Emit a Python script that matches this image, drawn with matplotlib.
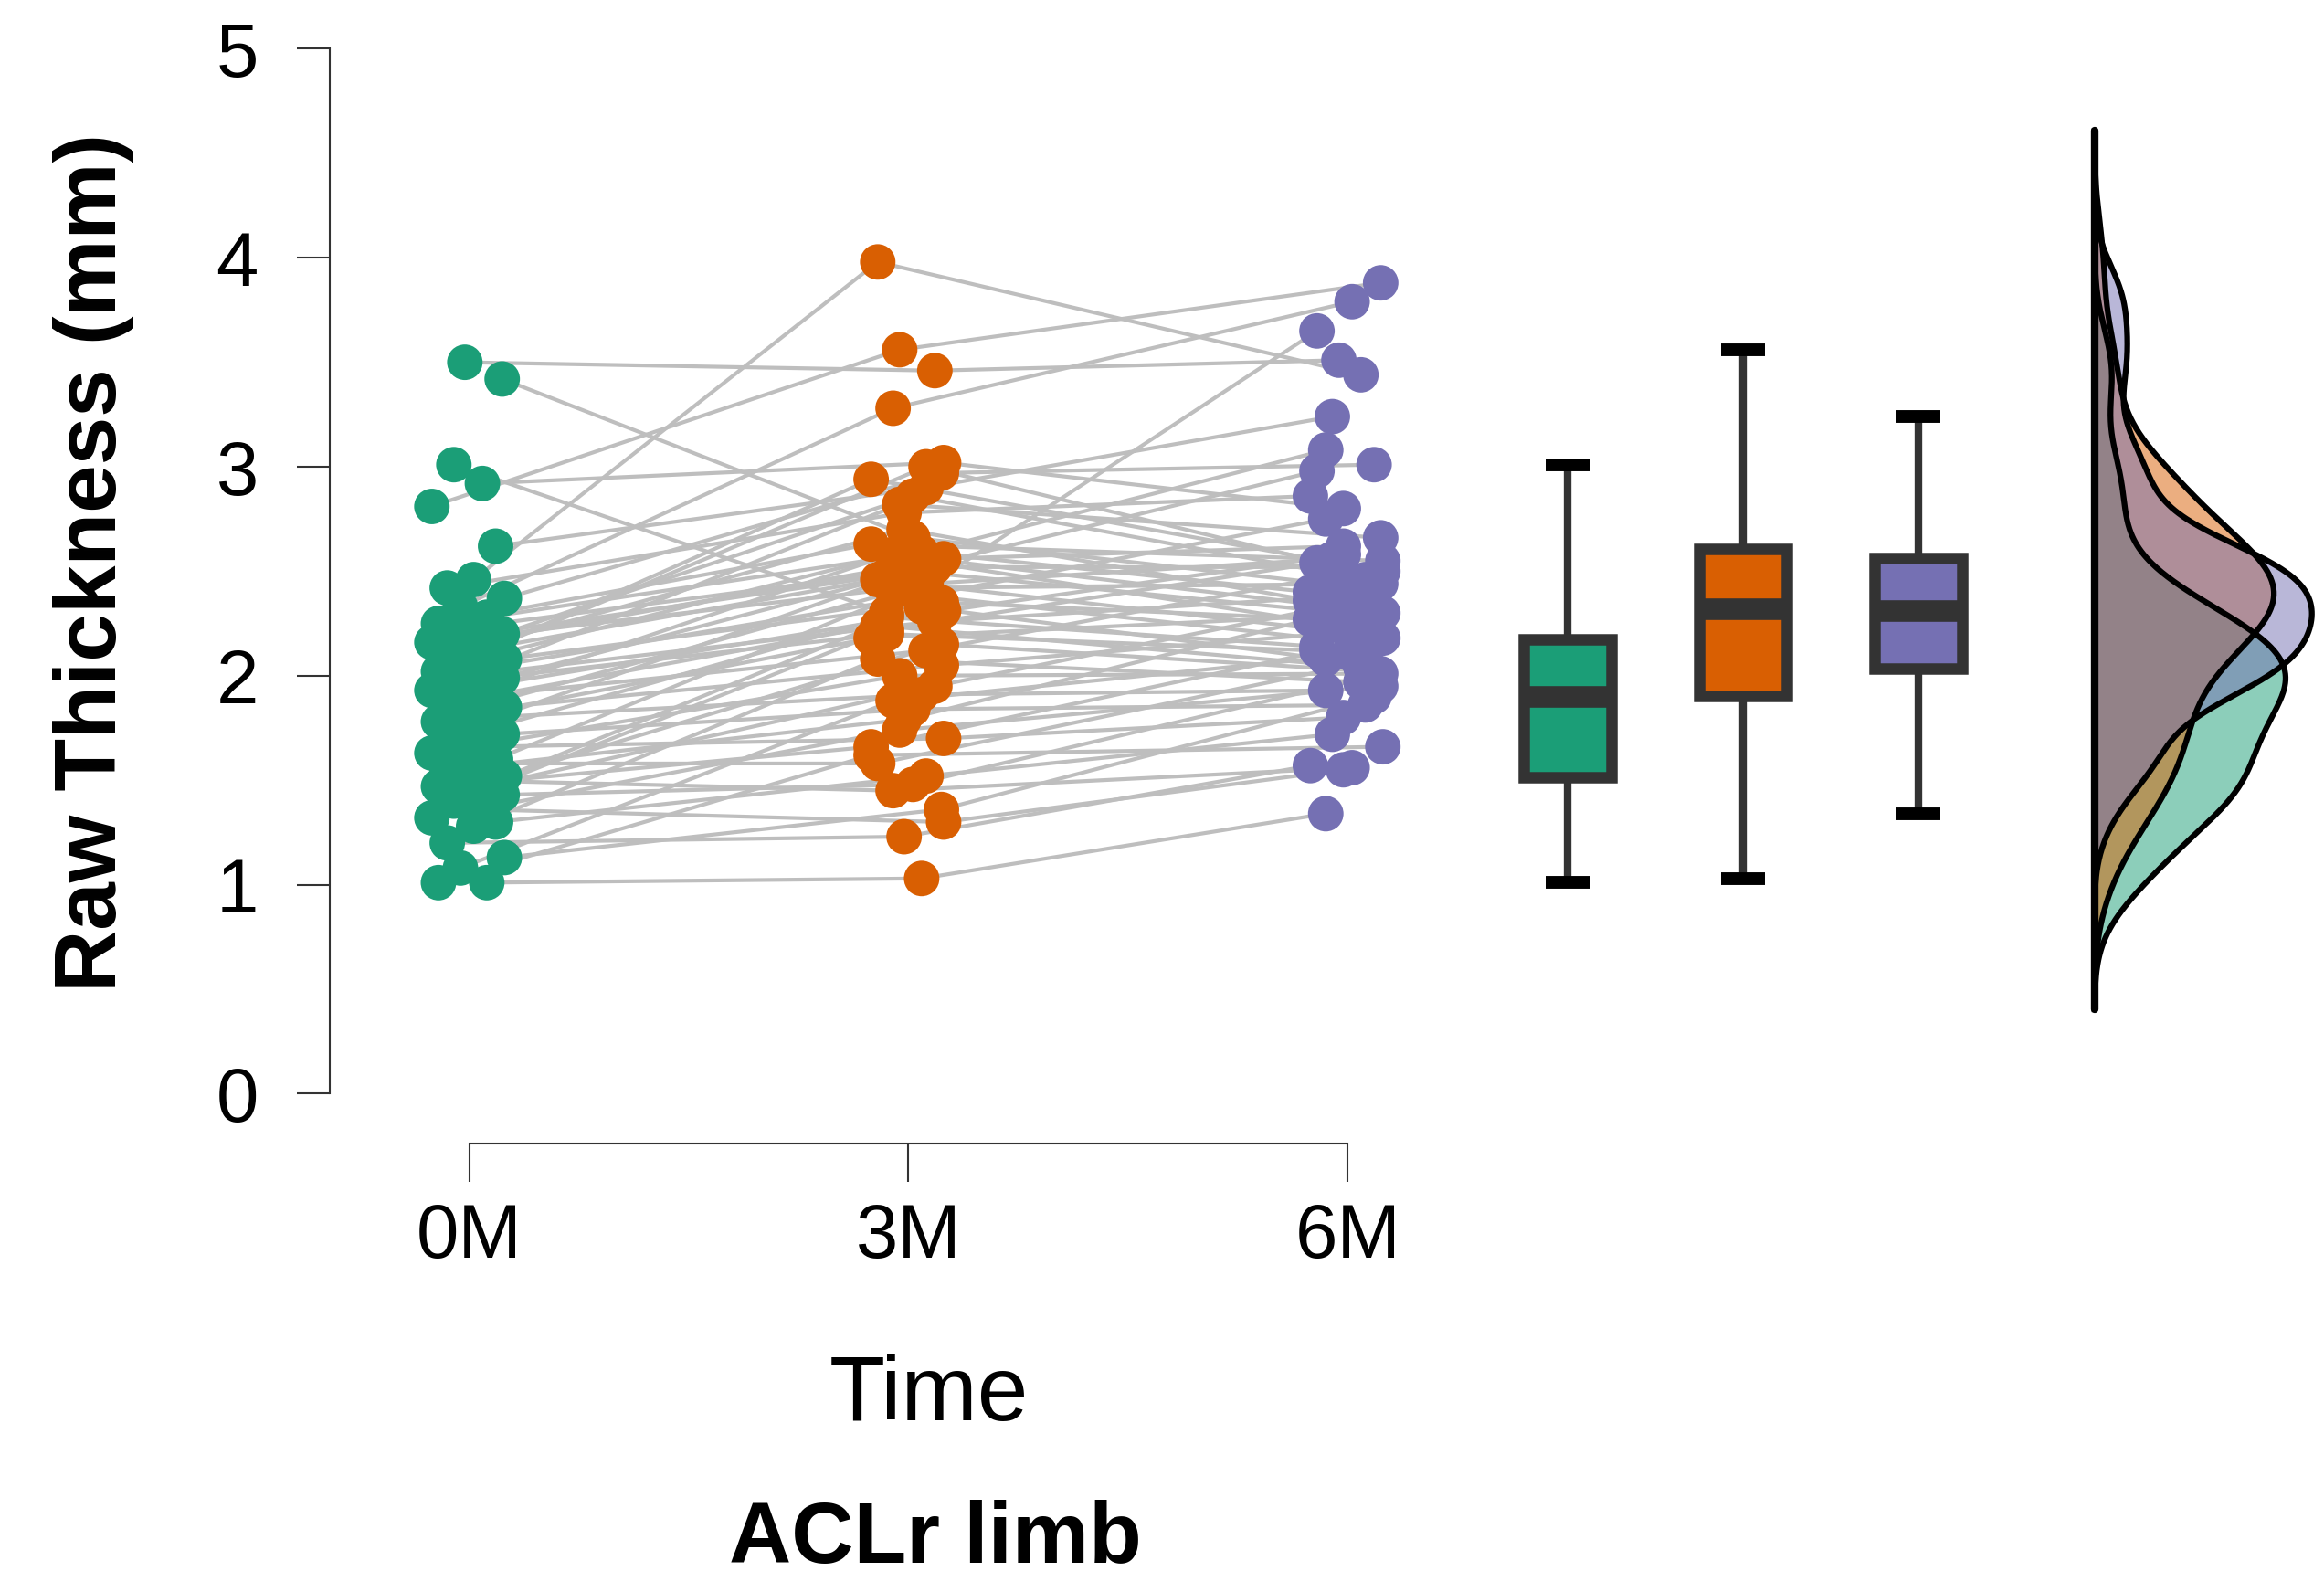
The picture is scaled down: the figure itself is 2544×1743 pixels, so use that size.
import numpy as np
import matplotlib
matplotlib.use("Agg")
import matplotlib.pyplot as plt

plt.rcParams['font.family'] = ['Liberation Sans', 'DejaVu Sans']

times = ['0M', '3M', '6M']
colors = ['#1B9E77', '#D95F02', '#7570B3']

# raw thickness (mm), one entry per subject, same subject order in each list
thick_0m = [1.01, 1.01, 1.08, 1.13, 1.20, 1.28, 1.30, 1.32, 1.36, 1.40,
            1.43, 1.45, 1.47, 1.48, 1.50, 1.52, 1.55, 1.58, 1.60, 1.63,
            1.66, 1.70, 1.72, 1.75, 1.78, 1.80, 1.83, 1.85, 1.87, 1.89,
            1.91, 1.93, 1.95, 1.97, 1.99, 2.00, 2.02, 2.04, 2.06, 2.08,
            2.10, 2.12, 2.14, 2.16, 2.17, 2.18, 2.20, 2.23, 2.25, 2.28,
            2.33, 2.37, 2.42, 2.46, 2.62, 2.81, 2.92, 3.01, 3.42, 3.50]
thick_3m = [1.62, 1.03, 1.88, 1.36, 1.23, 2.08, 1.52, 1.74, 1.30, 2.22,
            1.48, 1.95, 1.66, 2.33, 1.45, 2.15, 1.79, 1.58, 2.44, 2.00,
            1.70, 2.28, 1.84, 2.54, 2.18, 1.91, 2.40, 2.05, 2.60, 2.24,
            2.12, 2.82, 2.31, 2.20, 2.50, 2.26, 2.94, 2.38, 2.58, 2.35,
            2.70, 2.46, 3.00, 2.42, 2.56, 2.48, 2.86, 2.52, 2.63, 2.59,
            3.28, 2.97, 2.78, 3.98, 2.90, 3.56, 3.02, 2.30, 2.66, 3.46]
thick_6m = [1.66, 1.34, 2.10, 1.90, 1.57, 1.97, 1.72, 1.95, 1.55, 2.54,
            1.99, 2.34, 2.18, 2.08, 1.56, 2.02, 2.27, 2.06, 2.56, 2.01,
            1.80, 2.14, 1.86, 2.24, 2.30, 1.93, 2.16, 2.22, 2.40, 2.04,
            2.48, 2.66, 2.58, 2.12, 2.29, 2.38, 2.50, 2.75, 2.32, 2.26,
            2.36, 2.20, 2.53, 2.44, 2.62, 2.98, 2.46, 2.52, 2.55, 3.08,
            3.79, 3.01, 2.86, 3.44, 3.24, 3.88, 2.80, 3.65, 2.42, 3.51]

# horizontal scatter of the dots around each time point
jitter_pattern = [-0.07, 0.04, -0.02, 0.08, -0.05, 0.01,
                  0.06, -0.085, 0.03, -0.035, 0.075, -0.01]

series = [np.array(thick_0m), np.array(thick_3m), np.array(thick_6m)]
n = len(thick_0m)
jit = np.resize(jitter_pattern, n)
jitters = [jit, np.roll(jit, 5), np.roll(jit, 9)]
xpos = [1, 2, 3]
box_pos = [3.5, 3.9, 4.3]
dens_base = 4.7


def r_density(v, npts=512):
    # gaussian kde with R's bw.nrd0 and cut = 3
    q75, q25 = np.percentile(v, [75, 25])
    bw = 0.9 * min(v.std(ddof=1), (q75 - q25) / 1.34) * len(v) ** -0.2
    y = np.linspace(v.min() - 3 * bw, v.max() + 3 * bw, npts)
    z = (y[:, None] - v[None, :]) / bw
    d = np.exp(-0.5 * z ** 2).sum(axis=1) / (len(v) * bw * np.sqrt(2 * np.pi))
    return y, d


fig = plt.figure(figsize=(25.44, 17.43), dpi=100)
ax = fig.add_axes([0.1418, 0.2815, 0.8577, 0.7141])

# subject lines
for i in range(n):
    xs = [xpos[k] + jitters[k][i] for k in range(3)]
    ys = [series[k][i] for k in range(3)]
    ax.plot(xs, ys, color='#BEBEBE', lw=3, zorder=1)

# dots
for k in range(3):
    ax.scatter(xpos[k] + jitters[k], series[k], s=28 ** 2, color=colors[k],
               edgecolors='none', zorder=3)

# boxplots
bp = ax.boxplot(series, positions=box_pos, widths=0.2, showfliers=False,
                patch_artist=True, whis=1.5, capwidths=0.1,
                boxprops=dict(edgecolor='#333333', linewidth=9),
                medianprops=dict(color='#333333', linewidth=17, solid_capstyle='butt'),
                whiskerprops=dict(color='#333333', linewidth=6),
                capprops=dict(color='black', linewidth=10, solid_capstyle='butt'))
for patch, c in zip(bp['boxes'], colors):
    patch.set_facecolor(c)

# half densities
dens = [r_density(s) for s in series]
scale = 0.495 / max(d.max() for _, d in dens)
for (y, d), c in zip(dens, colors):
    ax.fill_betweenx(y, dens_base, dens_base + d * scale, color=c, alpha=0.5,
                     lw=0, zorder=4)
    ax.plot(dens_base + d * scale, y, color='black', lw=4.5, zorder=5)
ymin = min(y.min() for y, _ in dens)
ymax = max(y.max() for y, _ in dens)
ax.plot([dens_base, dens_base], [ymin, ymax], color='black', lw=6,
        solid_capstyle='round', zorder=6)

ax.set_xlim(0.682, 5.22)
ax.set_ylim(-0.24, 5.2)
for side in ['top', 'right']:
    ax.spines[side].set_visible(False)
ax.spines['left'].set_bounds(0, 5)
ax.spines['bottom'].set_bounds(1, 3)
for side in ['left', 'bottom']:
    ax.spines[side].set_color('#333333')
    ax.spines[side].set_linewidth(1.5)

ax.set_yticks([0, 1, 2, 3, 4, 5])
ax.set_xticks(xpos)
ax.set_xticklabels(times)
ax.tick_params(axis='y', length=26, width=1.5, color='#333333', pad=30, labelsize=60)
ax.tick_params(axis='x', length=30, width=1.5, color='#333333', pad=16, labelsize=60)

fig.text(626 / 1566, 1 - 957 / 1073, 'Time', ha='center', va='baseline', fontsize=72)
fig.text(630 / 1566, 1 - 1053 / 1073, 'ACLr limb', ha='center', va='baseline',
         fontsize=68, fontweight='bold')
fig.text(63 / 1566, 1 - 379 / 1073, 'Raw Thickness (mm)', ha='center', va='center',
         rotation=90, fontsize=68, fontweight='bold')

fig.savefig('out.png', dpi=100)
